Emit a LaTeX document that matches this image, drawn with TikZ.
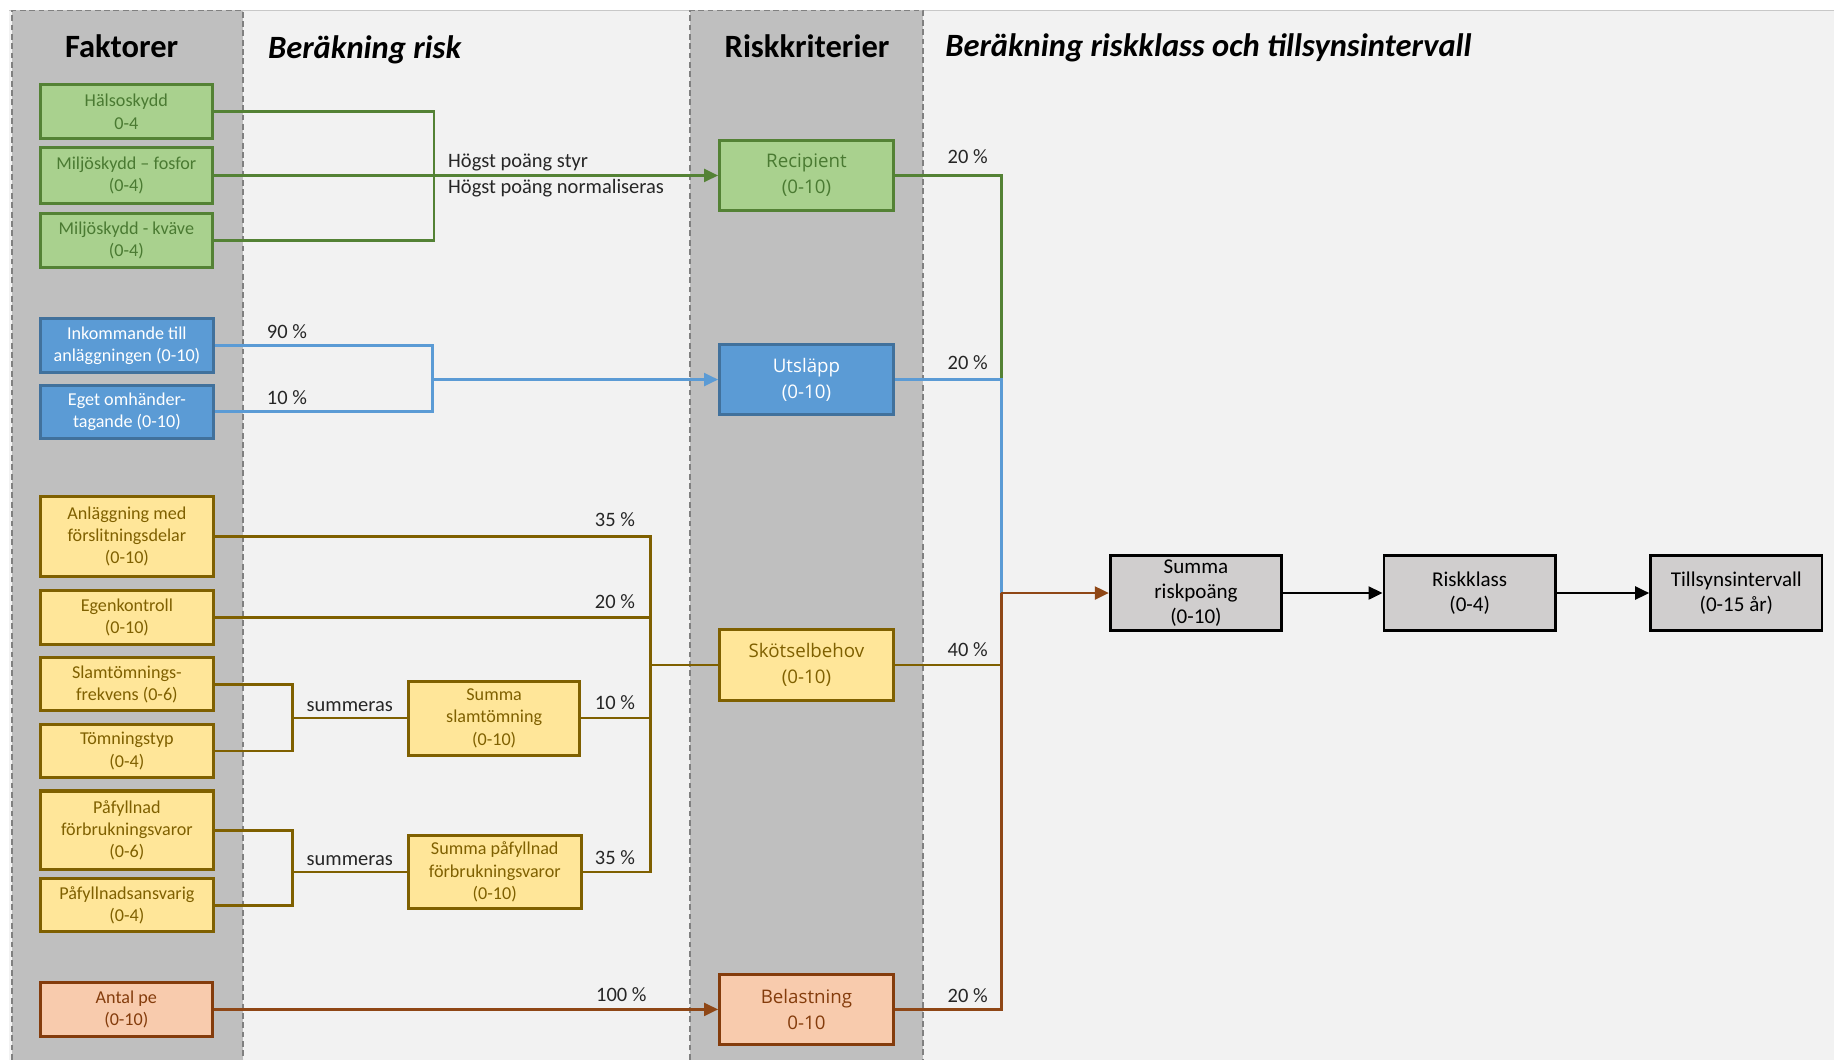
\documentclass[tikz,border=0pt]{standalone}
\usepackage{fontspec}
\setmainfont{Carlito}
\newfontfamily\osans{Open Sans}
\usetikzlibrary{arrows.meta}
\definecolor{panel}{HTML}{F2F2F2}
\definecolor{colgray}{HTML}{BFBFBF}
\definecolor{dashgray}{HTML}{808080}
\definecolor{topline}{HTML}{C8C8C8}
\definecolor{gfill}{HTML}{A9D18E}
\definecolor{gdraw}{HTML}{548235}
\definecolor{gtext}{HTML}{4A7A32}
\definecolor{bfill}{HTML}{5B9BD5}
\definecolor{bdraw}{HTML}{41719C}
\definecolor{bline}{HTML}{5B9BD5}
\definecolor{yfill}{HTML}{FFE699}
\definecolor{ydraw}{HTML}{7F6000}
\definecolor{ofill}{HTML}{F8CBAD}
\definecolor{odraw}{HTML}{843C0C}
\definecolor{oline}{HTML}{8F4716}
\definecolor{resfill}{HTML}{D0CECE}
\definecolor{lbltext}{HTML}{262626}
\begin{document}
\begin{tikzpicture}[x=1pt,y=-1pt,
  fac/.style={draw, line width=2.6pt, minimum width=147.5pt, inner sep=0pt, align=center,
    font=\fontsize{15.5}{19}\selectfont},
  gbox/.style={fac, fill=gfill, draw=gdraw, text=gtext},
  bbox/.style={fac, fill=bfill, draw=bdraw, text=white},
  ybox/.style={fac, fill=yfill, draw=ydraw, text=ydraw},
  obox/.style={fac, fill=ofill, draw=odraw, text=odraw},
  crit/.style={draw, line width=2.6pt, minimum width=148.5pt, minimum height=60.5pt, inner sep=0pt,
    align=center, font=\osans\fontsize{16}{22}\selectfont},
  res/.style={draw=black, fill=resfill, line width=2.4pt, minimum width=146.5pt, minimum height=63.5pt,
    inner sep=0pt, align=center, font=\fontsize{18}{21.5}\selectfont},
  lbl/.style={inner sep=0pt, text=lbltext, font=\fontsize{17.5}{21}\selectfont},
  hdr/.style={inner sep=0pt, font=\bfseries\fontsize{27.8}{32}\selectfont},
  hdri/.style={hdr, font=\bfseries\itshape\fontsize{27.8}{32}\selectfont},
  conn/.style={line width=2.2pt},
  gline/.style={conn, draw=gdraw},
  bl/.style={conn, draw=bline},
  yl/.style={conn, draw=ydraw},
  ol/.style={conn, draw=oline},
  tip/.style={-{Triangle[length=12pt,width=11pt]}},
  colbox/.style={fill=colgray, draw=dashgray, line width=1.5pt, dash pattern=on 5pt off 3pt}
]
% background
\useasboundingbox (0,0) rectangle (1568,906);
\fill[white] (0,0) rectangle (1568,906);
\fill[panel] (8,9) rectangle (1568,906);
\draw[topline, line width=1.5pt] (8,9) -- (1568,9);
\draw[colbox] (10,906) -- (10,9) -- (208,9) -- (208,906);
\draw[colbox] (590,906) -- (590,9) -- (789,9) -- (789,906);

% headers
\node[hdr, anchor=base] (hf) at (104,49) {Faktorer};
\node[hdri, anchor=base west] (hb) at (229,50) {Beräkning risk};
\node[hdr, anchor=base] (hr) at (690,49) {Riskkriterier};
\node[hdri, anchor=base west] (hk) at (808,48) {Beräkning riskklass och tillsynsintervall};

% factor boxes
\node[gbox, minimum height=46.5pt] (hal) at (108,95.5) {Hälsoskydd\\0-4};
\node[gbox, minimum height=47.5pt] (fos) at (108,150) {Miljöskydd – fosfor\\(0-4)};
\node[gbox, minimum height=46.5pt] (kva) at (108,205.5) {Miljöskydd - kväve\\(0-4)};

\node[bbox, minimum height=46.5pt] (ink) at (108.5,295.5) {Inkommande till\\anläggningen (0-10)};
\node[bbox, minimum height=45.5pt] (ege) at (108.5,352) {Eget omhänder-\\tagande (0-10)};

\node[ybox, minimum height=68.5pt] (anl) at (108.5,458.5) {Anläggning med\\förslitningsdelar\\(0-10)};
\node[ybox, minimum height=45.5pt] (egk) at (108.5,528) {Egenkontroll\\(0-10)};
\node[ybox, minimum height=45.5pt] (slf) at (108.5,585) {Slamtömnings-\\frekvens (0-6)};
\node[ybox, minimum height=45.5pt] (tty) at (108.5,642) {Tömningstyp\\(0-4)};
\node[ybox, minimum height=67.5pt] (pfv) at (108.5,710) {Påfyllnad\\förbrukningsvaror\\(0-6)};
\node[ybox, minimum height=45.5pt] (pfa) at (108.5,774) {Påfyllnadsansvarig\\(0-4)};
\node[ybox, minimum width=146.5pt, minimum height=63.5pt] (ssl) at (422.5,614) {Summa\\slamtömning\\(0-10)};
\node[ybox, minimum height=62.5pt] (spf) at (423,745.5) {Summa påfyllnad\\förbrukningsvaror\\(0-10)};

\node[obox, minimum height=46.5pt] (ape) at (108,863) {Antal pe\\(0-10)};

% criteria boxes
\node[crit, fill=gfill, draw=gdraw, text=gtext] (rec) at (689.5,150) {Recipient\\(0-10)};
\node[crit, fill=bfill, draw=bdraw, text=white] (uts) at (689.5,324.5) {Utsläpp\\(0-10)};
\node[crit, fill=yfill, draw=ydraw, text=ydraw] (sko) at (689.5,568.5) {Skötselbehov\\(0-10)};
\node[crit, fill=ofill, draw=odraw, text=odraw] (bel) at (689.5,863) {Belastning\\0-10};

% result boxes
\node[res] (sum) at (1022.5,507) {Summa\\riskpoäng\\(0-10)};
\node[res] (rkl) at (1256.5,507) {Riskklass\\(0-4)};
\node[res] (til) at (1484.5,507) {Tillsynsintervall\\(0-15 år)};

% junction coordinates
\coordinate (gj) at (371,150);
\coordinate (bj) at (370,324.5);
\coordinate (yj) at (556,568.5);
\coordinate (sj1) at (250,614);
\coordinate (sj2) at (250,745.5);
\coordinate (rjb) at (856,324.5);
\coordinate (rj) at (856,507);

% green connectors
\draw[gline] (hal.east) -| (gj);
\draw[gline] (kva.east) -| (gj);
\draw[gline, tip] (fos.east) -- (rec.west);

% blue connectors
\draw[bl] (ink.east) -| (bj);
\draw[bl] (ege.east) -| (bj);
\draw[bl, tip] (bj) -- (uts.west);

% yellow connectors
\draw[yl] (slf.east) -| (sj1);
\draw[yl] (tty.east) -| (sj1);
\draw[yl] (sj1) -- (ssl.west);
\draw[yl] (pfv.east) -| (sj2);
\draw[yl] (pfa.east) -| (sj2);
\draw[yl] (sj2) -- (spf.west);
\draw[yl] (anl.east) -| (yj);
\draw[yl] (spf.east) -| (yj);
\draw[yl] (egk.east) -- (egk.east -| yj);
\draw[yl] (ssl.east) -- (ssl.east -| yj);
\draw[yl] (yj) -- (sko.west);

% orange connector
\draw[ol, tip] (ape.east) -- (bel.west);

% right side
\draw[gline] (rec.east) -| (rjb);
\draw[bl] (uts.east) -| (rj);
\draw[yl] (sko.east) -- (sko.east -| rj);
\draw[ol] (bel.east) -| (rj);
\draw[ol, tip] (rj) -- (sum.west);
\draw[conn, draw=black, tip] (sum.east) -- (rkl.west);
\draw[conn, draw=black, tip] (rkl.east) -- (til.west);

% labels
\node[lbl, anchor=base west] (l1) at (383,143.5) {Högst poäng styr};
\node[lbl, anchor=base west] (l2) at (383,165.5) {Högst poäng normaliseras};
\node[lbl, anchor=base west] (l3) at (228,289) {90 \%};
\node[lbl, anchor=base west] (l4) at (228,346) {10 \%};
\node[lbl, anchor=base east] (l5) at (543,450) {35 \%};
\node[lbl, anchor=base east] (l6) at (543,520) {20 \%};
\node[lbl, anchor=base west] (l7) at (262,608) {summeras};
\node[lbl, anchor=base east] (l8) at (543,607) {10 \%};
\node[lbl, anchor=base west] (l9) at (262,740) {summeras};
\node[lbl, anchor=base east] (l10) at (543,739) {35 \%};
\node[lbl, anchor=base east] (l11) at (553,856) {100 \%};
\node[lbl, anchor=base west] (l12) at (810,140) {20 \%};
\node[lbl, anchor=base west] (l13) at (810,316) {20 \%};
\node[lbl, anchor=base west] (l14) at (810,561) {40 \%};
\node[lbl, anchor=base west] (l15) at (810,857) {20 \%};
\end{tikzpicture}
\end{document}
